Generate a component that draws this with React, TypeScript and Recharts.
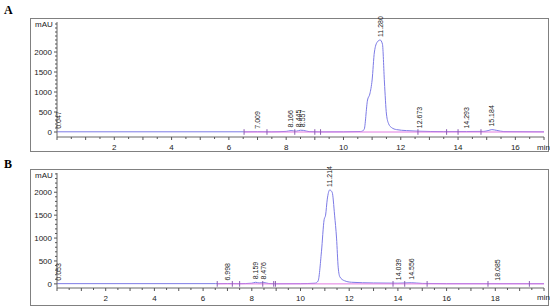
import { ComposedChart, Line, Scatter, XAxis, YAxis, ReferenceLine } from "recharts";

// chromatogram A (signal)
const timeA = [0, 6.5, 7.0, 7.5, 8.0, 8.17, 8.35, 8.5, 8.6, 8.8, 9.2, 10.0, 10.6, 10.72, 10.84, 10.92, 11.0, 11.08, 11.18, 11.28, 11.36, 11.43, 11.5, 11.58, 11.68, 11.85, 12.2, 12.6, 13.5, 14.3, 14.9, 15.05, 15.18, 15.35, 15.6, 17];
const mauA = [5, 5, 8, 5, 15, 35, 20, 45, 40, 10, 3, 5, 12, 60, 800, 950, 1300, 2000, 2250, 2300, 2200, 1250, 450, 200, 110, 60, 35, 20, 10, 12, 15, 35, 60, 40, 10, 5];
const peakTimeA = [0.047, 7.009, 8.166, 8.445, 8.557, 11.28, 12.673, 14.293, 15.184];
const peakLabelA = ["0.047", "7.009", "8.166", "8.445", "8.557", "11.280", "12.673", "14.293", "15.184"];
const peakMauA = [5, 8, 35, 45, 45, 2300, 20, 12, 60];
const baseSegA = [6.53, 17];
const baseTickA = [6.53, 7.33, 8.3, 9.0, 9.2, 12.6, 13.6, 14.0, 14.8];

// chromatogram B
const timeB = [0, 6.5, 7.0, 7.5, 8.0, 8.16, 8.3, 8.48, 8.7, 9.0, 10.0, 10.6, 10.72, 10.86, 10.97, 11.03, 11.1, 11.2, 11.3, 11.4, 11.48, 11.55, 11.62, 11.8, 12.1, 13.0, 14.0, 14.55, 15.0, 16.0, 20];
const mauB = [5, 5, 8, 5, 15, 35, 20, 30, 8, 3, 5, 15, 60, 700, 1400, 1500, 1850, 2050, 2000, 1500, 1000, 350, 150, 70, 35, 20, 15, 25, 10, 5, 5];
const peakTimeB = [0.053, 6.998, 8.159, 8.476, 11.214, 14.039, 14.556, 18.085];
const peakLabelB = ["0.053", "6.998", "8.159", "8.476", "11.214", "14.039", "14.556", "18.085"];
const peakMauB = [5, 8, 35, 30, 2050, 15, 25, 5];
const baseSegB = [6.58, 20];
const baseTickB = [6.58, 7.2, 7.5, 8.45, 8.9, 8.97, 13.8, 14.28, 15.2, 17.7, 19.4];

const yMajor = [0, 500, 1000, 1500, 2000];

const FONT = "Arial, 'Liberation Sans', sans-serif";

const XTick = (props: any) => {
  const { x, y, payload, xMax } = props;
  const v = payload.value as number;
  const major = v % 2 === 0 && v > 0 && v < xMax;
  return (
    <g>
      <line x1={x} x2={x} y1={y} y2={y + (v % 1 === 0 ? 3 : 2)} stroke="#555" />
      {major && (
        <text x={x} y={y + 13} textAnchor="middle" fontSize={8} fill="#222" fontFamily={FONT}>
          {v}
        </text>
      )}
    </g>
  );
};

const YTick = (props: any) => {
  const { x, y, payload } = props;
  const v = payload.value as number;
  const major = yMajor.includes(v);
  return (
    <g>
      <line x1={x} x2={x - (major ? 3 : 2)} y1={y} y2={y} stroke="#555" />
      {major && (
        <text x={x - 5} y={y} dy="0.35em" textAnchor="end" fontSize={8} fill="#222" fontFamily={FONT}>
          {v}
        </text>
      )}
    </g>
  );
};

const PeakLabel = (props: any) => {
  const { cx, cy, payload } = props;
  const y0 = cy - 3;
  return (
    <text
      x={cx}
      y={y0}
      dy="0.35em"
      transform={`rotate(-90 ${cx} ${y0})`}
      fontSize={7}
      fill="#222"
      fontFamily={FONT}
    >
      {payload.label}
    </text>
  );
};

interface PanelProps {
  times: number[];
  mau: number[];
  peakTime: number[];
  peakLabel: string[];
  peakMau: number[];
  baseSeg: number[];
  baseTick: number[];
  xMax: number;
  yDomain: [number, number];
  tickHalf: number;
}

function Panel(p: PanelProps) {
  const signal = p.times.map((t, i) => ({ t, v: p.mau[i] }));
  const peaks = p.peakTime.map((t, i) => ({ t, v: p.peakMau[i], label: p.peakLabel[i] }));
  const xTicks = Array.from({ length: p.xMax * 2 + 1 }, (_, i) => i / 2);
  const yTicks = Array.from({ length: Math.floor(p.yDomain[1] / 100) + 1 }, (_, i) => i * 100);
  return (
    <ComposedChart width={550} height={158} margin={{ top: 22, right: 6, bottom: 6, left: 30 }}>
      <XAxis
        type="number"
        dataKey="t"
        domain={[0, p.xMax]}
        ticks={xTicks}
        interval={0}
        tick={<XTick xMax={p.xMax} />}
        tickLine={false}
        tickSize={0}
        tickMargin={0}
        height={15}
        stroke="#666"
      />
      <YAxis
        type="number"
        dataKey="v"
        domain={p.yDomain}
        ticks={yTicks}
        interval={0}
        tick={<YTick />}
        tickLine={false}
        tickSize={0}
        tickMargin={0}
        width={27}
        stroke="#666"
      />
      <Line
        data={signal}
        dataKey="v"
        type="monotone"
        stroke="#7d7be6"
        strokeWidth={1}
        dot={false}
        isAnimationActive={false}
      />
      <ReferenceLine
        segment={[{ x: p.baseSeg[0], y: 0 }, { x: p.baseSeg[1], y: 0 }]}
        stroke="#e27ae0"
        strokeWidth={1}
      />
      {p.baseTick.map((t) => (
        <ReferenceLine
          key={t}
          segment={[{ x: t, y: -p.tickHalf }, { x: t, y: p.tickHalf }]}
          stroke="#8a5fb0"
          strokeWidth={1}
        />
      ))}
      <Scatter data={peaks} dataKey="v" shape={<PeakLabel />} isAnimationActive={false} />
    </ComposedChart>
  );
}

const frame = {
  position: "absolute" as const,
  left: 30,
  width: 519,
  border: "1px solid #808080",
  boxSizing: "border-box" as const,
};

const txt = {
  position: "absolute" as const,
  fontFamily: FONT,
  fontSize: 8,
  color: "#222",
  lineHeight: "8px",
};

export default function App() {
  return (
    <div style={{ position: "absolute", left: 0, top: 0, width: 550, height: 308, background: "#fff", overflow: "hidden" }}>
      <div style={{ position: "absolute", left: 4, top: 3, fontFamily: "'Liberation Serif', 'DejaVu Serif', serif", fontWeight: 700, fontSize: 12 }}>A</div>
      <div style={{ position: "absolute", left: 4, top: 157, fontFamily: "'Liberation Serif', 'DejaVu Serif', serif", fontWeight: 700, fontSize: 12 }}>B</div>
      <div style={{ ...frame, top: 18, height: 134 }} />
      <div style={{ ...frame, top: 169, height: 137 }} />
      <div style={{ position: "absolute", left: 0, top: 0 }}>
        <Panel
          times={timeA}
          mau={mauA}
          peakTime={peakTimeA}
          peakLabel={peakLabelA}
          peakMau={peakMauA}
          baseSeg={baseSegA}
          baseTick={baseTickA}
          xMax={17}
          yDomain={[-125, 2750]}
          tickHalf={70}
        />
      </div>
      <div style={{ position: "absolute", left: 0, top: 151 }}>
        <Panel
          times={timeB}
          mau={mauB}
          peakTime={peakTimeB}
          peakLabel={peakLabelB}
          peakMau={peakMauB}
          baseSeg={baseSegB}
          baseTick={baseTickB}
          xMax={20}
          yDomain={[-90, 2420]}
          tickHalf={62}
        />
      </div>
      <div style={{ ...txt, left: 35, top: 21 }}>mAU</div>
      <div style={{ ...txt, left: 35, top: 172 }}>mAU</div>
      <div style={{ ...txt, left: 537, top: 144 }}>min</div>
      <div style={{ ...txt, left: 537, top: 294 }}>min</div>
    </div>
  );
}
